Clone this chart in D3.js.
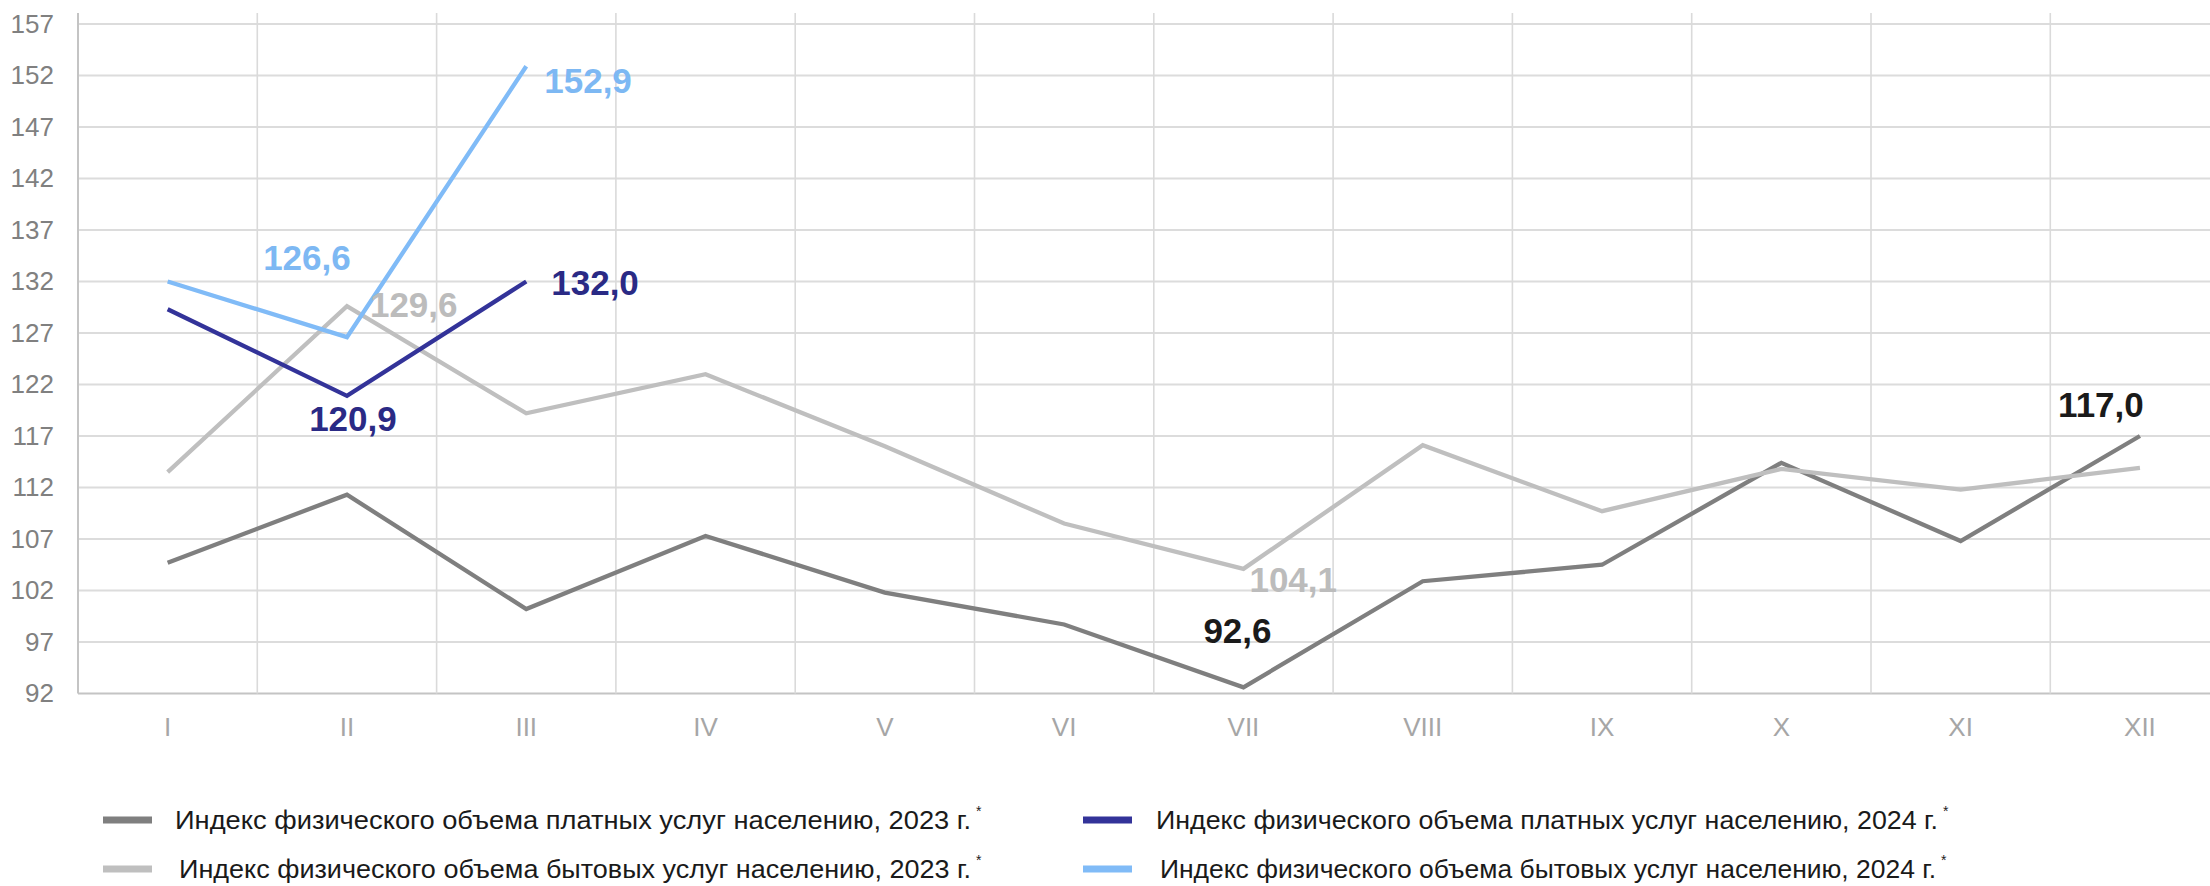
<!DOCTYPE html>
<html>
<head>
<meta charset="utf-8">
<script src="https://cdn.jsdelivr.net/npm/d3@7"></script>
<style>
  body { margin: 0; background: #fff; }
  text { font-family: "Liberation Sans", Arial, sans-serif; }
</style>
</head>
<body>
<script>
// Data
const months = ["I", "II", "III", "IV", "V", "VI", "VII", "VIII", "IX", "X", "XI", "XII"];
const yTicks = [92, 97, 102, 107, 112, 117, 122, 127, 132, 137, 142, 147, 152, 157];

const paid2023 = [104.7, 111.3, 100.2, 107.3, 101.8, 98.7, 92.6, 102.9, 104.5, 114.4, 106.8, 117.0];
const household2023 = [113.5, 129.6, 119.2, 123.0, 116.0, 108.5, 104.1, 116.1, 109.7, 113.8, 111.8, 113.9];
const paid2024 = [129.3, 120.9, 132.0];
const household2024 = [132.0, 126.6, 152.9];

const seriesNames = [
    "Индекс физического объема платных услуг населению, 2023 г.",
    "Индекс физического объема бытовых услуг населению, 2023 г.",
    "Индекс физического объема платных услуг населению, 2024 г.",
    "Индекс физического объема бытовых услуг населению, 2024 г."
];

// value labels: series index, month index, text
const valueLabels = [
    {s: 3, m: 2, text: "152,9"},
    {s: 3, m: 1, text: "126,6"},
    {s: 2, m: 2, text: "132,0"},
    {s: 2, m: 1, text: "120,9"},
    {s: 1, m: 1, text: "129,6"},
    {s: 1, m: 6, text: "104,1"},
    {s: 0, m: 6, text: "92,6"},
    {s: 0, m: 11, text: "117,0"}
];

// Main
function main() {
    const svgwidth = 2210;
    const svgheight = 886;
    const left = 78, top = 24, bottom = 693.5, bandW = 179.3;

    const lineColors = ["#7f7f7f", "#bfbfbf", "#333399", "#80bbf7"];
    const labelColors = ["#1a1a1a", "#bcbcbc", "#2a2a85", "#7db8f3"];
    const allSeries = [paid2023, household2023, paid2024, household2024];

    let svg = d3.select("body").append("svg")
        .attr("width", svgwidth)
        .attr("height", svgheight)

    let xScale = d3.scaleBand()
        .domain(months)
        .range([left, left + bandW * months.length])
    let yScale = d3.scaleLinear()
        .domain([92, 157])
        .range([bottom, top])

    // horizontal grid
    svg.selectAll(".hgrid")
        .data(yTicks).enter()
            .append("line")
        .attr("x1", left)
        .attr("x2", svgwidth)
        .attr("y1", d => yScale(d))
        .attr("y2", d => yScale(d))
        .attr("stroke", d => d === 92 ? "#c4c4c4" : "#dcdcdc")
        .attr("stroke-width", 2.2)

    // vertical grid at band edges
    svg.selectAll(".vgrid")
        .data(months.slice(1)).enter()
            .append("line")
        .attr("x1", d => xScale(d))
        .attr("x2", d => xScale(d))
        .attr("y1", 13)
        .attr("y2", bottom)
        .attr("stroke", "#dadada")
        .attr("stroke-width", 1.6)

    svg.append("line")
        .attr("x1", left).attr("x2", left)
        .attr("y1", 13).attr("y2", bottom)
        .attr("stroke", "#c4c4c4")
        .attr("stroke-width", 2)

    // y tick labels
    svg.append("g")
        .attr("transform", `translate(${left - 24},0)`)
        .call(d3.axisLeft(yScale).tickValues(yTicks).tickSize(0).tickPadding(0))
        .call(g => g.select(".domain").remove())
        .selectAll("text")
        .attr("font-family", "Liberation Sans, Arial, sans-serif")
        .attr("font-size", 26)
        .attr("fill", "#808080")

    // x tick labels
    svg.append("g")
        .attr("transform", `translate(0,${bottom + 24})`)
        .call(d3.axisBottom(xScale).tickSize(0).tickPadding(0))
        .call(g => g.select(".domain").remove())
        .selectAll("text")
        .attr("font-family", "Liberation Sans, Arial, sans-serif")
        .attr("font-size", 26)
        .attr("fill", "#a6a6a6")

    const xPos = i => xScale(months[i]) + xScale.bandwidth() / 2;

    let line = d3.line()
        .x((d, i) => xPos(i))
        .y(d => yScale(d))

    svg.selectAll(".series")
        .data(allSeries).enter()
            .append("path")
        .attr("d", d => line(d))
        .attr("fill", "none")
        .attr("stroke", (d, i) => lineColors[i])
        .attr("stroke-width", 4.3)
        .attr("stroke-linejoin", "miter")

    // label offsets from their point: [dx, dy, anchor]
    const offsets = {
        "152,9": [18, 14, "start"],
        "126,6": [-40, -80, "middle"],
        "132,0": [25, 1, "start"],
        "120,9": [6, 23, "middle"],
        "129,6": [23, -2, "start"],
        "104,1": [6, 11, "start"],
        "92,6": [-6, -57, "middle"],
        "117,0": [-39, -32, "middle"]
    };

    svg.selectAll(".vlabel")
        .data(valueLabels).enter()
            .append("text")
        .attr("x", d => xPos(d.m) + offsets[d.text][0])
        .attr("y", d => yScale(allSeries[d.s][d.m]) + offsets[d.text][1])
        .attr("dy", "0.36em")
        .attr("text-anchor", d => offsets[d.text][2])
        .attr("font-size", 35)
        .attr("font-weight", "bold")
        .attr("fill", d => labelColors[d.s])
        .text(d => d.text)

    // legend
    const legendPos = [[103, 820], [103, 869], [1083, 820], [1083, 869]];
    const textX = [72, 76, 73, 77];
    const textLens = [796, 792, 782, 776];
    let legend = svg.selectAll(".legend")
        .data(seriesNames).enter()
            .append("g")
        .attr("transform", (d, i) => `translate(${legendPos[i][0]},${legendPos[i][1]})`)
    legend.append("rect")
        .attr("x", 0).attr("y", -3.5)
        .attr("width", 49).attr("height", 7)
        .attr("fill", (d, i) => lineColors[i])
    legend.append("text")
        .attr("x", (d, i) => textX[i])
        .attr("y", 0)
        .attr("dy", "0.36em")
        .attr("font-size", 26)
        .attr("fill", "#1a1a1a")
        .attr("textLength", (d, i) => textLens[i])
        .attr("lengthAdjust", "spacingAndGlyphs")
        .text(d => d)
    legend.append("text")
        .attr("x", (d, i) => textX[i] + textLens[i] + 5)
        .attr("y", -4)
        .attr("font-size", 14)
        .attr("fill", "#1a1a1a")
        .text("*")
}

main()
</script>
</body>
</html>
